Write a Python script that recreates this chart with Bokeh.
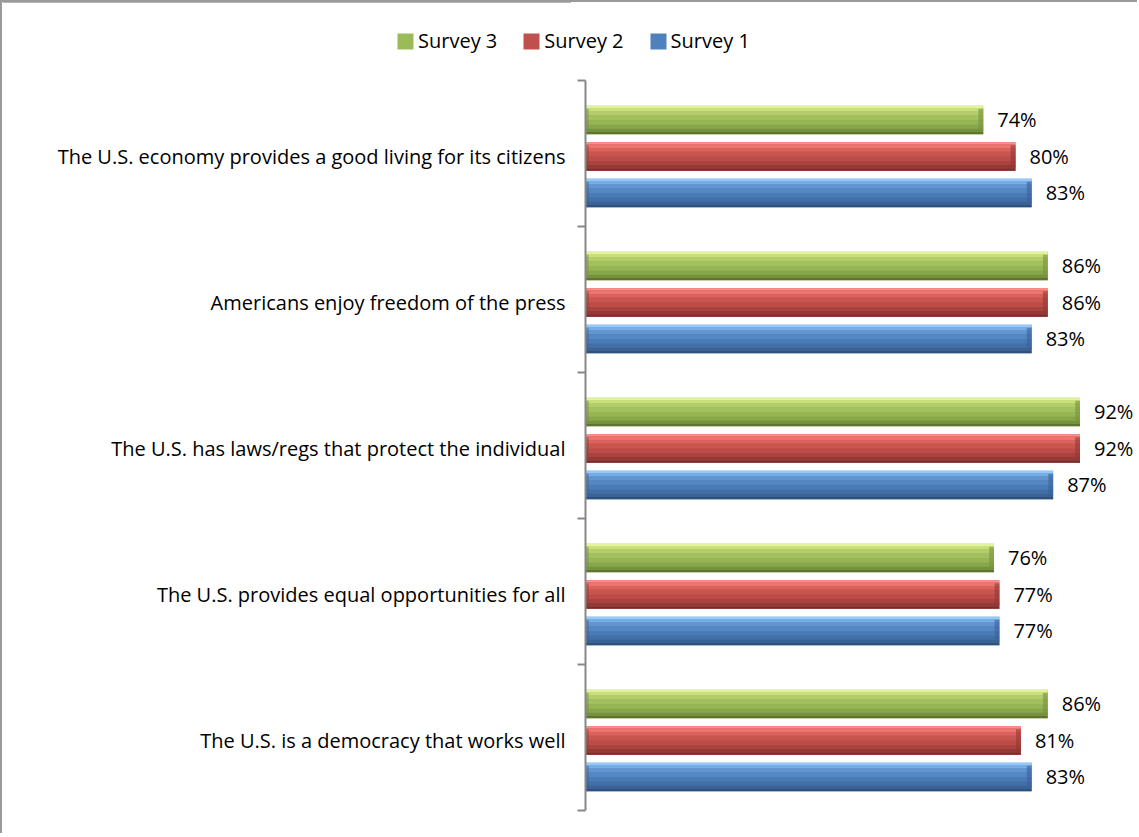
import numpy as np
from bokeh.plotting import figure
from bokeh.models import Range1d, FixedTicker, Legend, LegendItem, ColumnDataSource
from bokeh.core.properties import value
from bokeh.embed import file_html
from bokeh.resources import INLINE

# ---- data ----
categories = [
    "The U.S. economy provides a good living for its citizens",
    "Americans enjoy freedom of the press",
    "The U.S. has laws/regs that protect the individual",
    "The U.S. provides equal opportunities for all",
    "The U.S. is a democracy that works well",
]
survey3 = [74, 86, 92, 76, 86]
survey2 = [80, 86, 92, 77, 81]
survey1 = [83, 83, 87, 77, 83]
series_names = ["Survey 3", "Survey 2", "Survey 1"]

FONT = "Open Sans"
FS = "20px"

n = len(categories)
centers = np.array([n - 1 - i + 0.48 for i in range(n)])

W = 1137
# colour layers (top -> bottom)
palettes = {
    "Survey 3": ["#e3f39a", "#c8df7c", "#b2cd69", "#a2c15e", "#96b554", "#88a74b", "#76923e", "#5f752f"],
    "Survey 2": ["#ff8f8a", "#ec756f", "#d9625e", "#c9554f", "#bb4c48", "#aa4340", "#933936", "#772d2b"],
    "Survey 1": ["#94caf7", "#78ace4", "#6295d0", "#5587c3", "#4b7bb6", "#436fa7", "#3a6294", "#2e517d"],
}
fracs = [0.08, 0.12, 0.14, 0.16, 0.16, 0.14, 0.12, 0.08]
offsets = {"Survey 3": 0.25, "Survey 2": 0.0, "Survey 1": -0.25}
values = {"Survey 3": survey3, "Survey 2": survey2, "Survey 1": survey1}
base_colors = {"Survey 3": "#9bbb59", "Survey 2": "#c0504d", "Survey 1": "#4f81bd"}
h = 0.195

# ---- legend strip ----
pl = figure(width=W, height=62, output_backend="svg", toolbar_location=None,
            x_axis_location=None, y_axis_location=None, min_border=0,
            x_range=Range1d(0, 1), y_range=Range1d(0, 1))
pl.outline_line_color = None
pl.grid.visible = False
pl.styles = {"border-left": "2px solid #9a9a9a", "border-top": "2px solid #9a9a9a"}
legend_items = []
for name in series_names:
    r = pl.hbar(y=[5], right=[0.5], left=0, height=0.1,
                fill_color=base_colors[name], line_color=None)
    legend_items.append(LegendItem(label=name, renderers=[r]))
legend = Legend(items=legend_items, orientation="horizontal",
                location=(393, 10), border_line_color=None,
                background_fill_alpha=0, margin=0, padding=10,
                glyph_width=20, glyph_height=20, label_standoff=3, spacing=24,
                label_text_font=FONT, label_text_font_size=FS,
                label_text_color="#000000")
pl.add_layout(legend, "center")

# ---- main chart ----
p = figure(width=W, height=771, output_backend="svg", toolbar_location=None,
           x_axis_location=None, min_border_left=583, min_border_right=0,
           min_border_top=18, min_border_bottom=23,
           x_range=Range1d(0, (W - 583) / 5.375), y_range=Range1d(0, 5))
p.outline_line_color = None
p.grid.visible = False
p.styles = {"border-left": "2px solid #9a9a9a"}

for name in series_names:
    cols = palettes[name]
    y = centers + offsets[name]
    vals = np.array(values[name], dtype=float)
    src = ColumnDataSource(dict(y=y, right=vals,
                                label=[f"{v:.0f}%" for v in vals]))
    p.hbar(y="y", right="right", left=0, height=h, source=src,
           fill_color=base_colors[name], line_color=None)
    top = y + h / 2
    for c, f in zip(cols, fracs):
        p.hbar(y=top - h * f / 2, right=vals, left=0, height=h * f,
               fill_color=c, line_color=None)
        top = top - h * f
    # bevelled ends
    p.hbar(y=y, right=vals, left=vals - 0.9, height=h * 0.78,
           fill_color=cols[6], line_color=None, fill_alpha=0.6)
    p.hbar(y=y, right=0.6, left=0, height=h * 0.78,
           fill_color=cols[6], line_color=None, fill_alpha=0.5)
    p.text(x="right", y="y", text="label", source=src, x_offset=14,
           text_baseline="middle", text_align="left",
           text_font=value(FONT), text_font_size=FS, text_color="#000000")

ax = p.yaxis[0]
ax.ticker = FixedTicker(ticks=list(centers), minor_ticks=[0, 1, 2, 3, 4, 5])
ax.major_label_overrides = {float(c): categories[i] for i, c in enumerate(centers)}
ax.major_tick_out = 0
ax.major_tick_in = 0
ax.minor_tick_out = 8
ax.minor_tick_in = 0
ax.minor_tick_line_color = "#888888"
ax.minor_tick_line_width = 2
ax.axis_line_color = "#888888"
ax.axis_line_width = 2
ax.major_label_standoff = 12
ax.major_label_text_font = FONT
ax.major_label_text_font_size = FS
ax.major_label_text_color = "#000000"

open("out.html", "w").write(file_html([pl, p], INLINE))
